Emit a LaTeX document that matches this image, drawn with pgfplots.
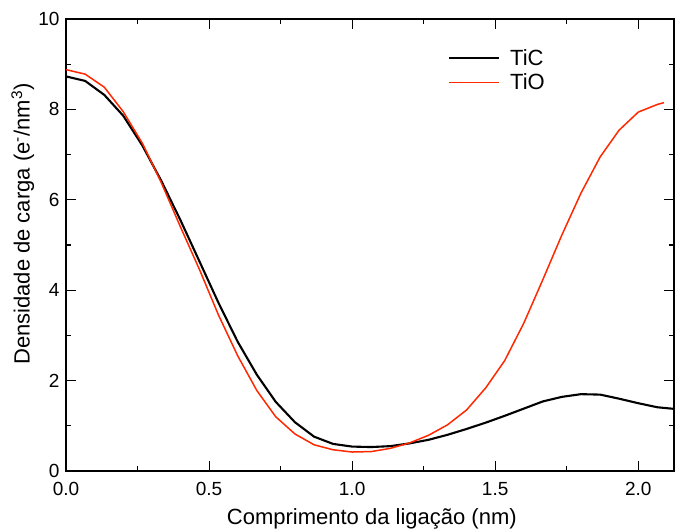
\documentclass[border=0pt]{standalone}
\usepackage{pgfplots}
\pgfplotsset{compat=1.18}
\usepackage{fontspec}
\setmainfont{Liberation Sans}
\definecolor{tioRed}{RGB}{255,40,0}
\pgfplotstableread{
x y
0.000 8.73
0.067 8.63
0.134 8.32
0.200 7.86
0.267 7.20
0.333 6.42
0.400 5.55
0.467 4.63
0.533 3.72
0.600 2.86
0.667 2.13
0.733 1.53
0.800 1.08
0.867 0.76
0.933 0.60
1.000 0.54
1.067 0.53
1.133 0.55
1.200 0.61
1.267 0.69
1.333 0.80
1.400 0.93
1.467 1.07
1.533 1.22
1.600 1.38
1.667 1.54
1.733 1.64
1.800 1.70
1.867 1.69
1.933 1.60
2.000 1.50
2.067 1.41
2.133 1.37
}\tic
\pgfplotstableread{
x y
0.000 8.88
0.067 8.78
0.134 8.49
0.200 7.95
0.267 7.25
0.333 6.38
0.400 5.40
0.467 4.45
0.533 3.45
0.600 2.55
0.667 1.78
0.733 1.20
0.800 0.82
0.867 0.58
0.933 0.47
1.000 0.42
1.067 0.43
1.133 0.50
1.200 0.62
1.267 0.79
1.333 1.02
1.400 1.35
1.467 1.84
1.533 2.44
1.600 3.27
1.667 4.24
1.733 5.22
1.800 6.15
1.867 6.95
1.933 7.54
2.000 7.94
2.067 8.11
2.090 8.15
}\tio
\begin{document}
\begin{tikzpicture}
\useasboundingbox (-66pt,-60pt) rectangle (609pt,471pt);
\begin{axis}[
  scale only axis,
  width=608pt, height=452pt,
  xmin=0, xmax=2.125, ymin=0, ymax=10,
  xtick={0,0.5,1,1.5,2}, ytick={0,2,4,6,8,10},
  minor x tick num=1, minor y tick num=1,
  tick align=inside,
  major tick length=10pt, minor tick length=5pt,
  every tick/.style={black, line width=1.1pt},
  axis line style={line width=1.5pt},
  /pgf/number format/assume math mode=true,
  xticklabel style={/pgf/number format/fixed, /pgf/number format/fixed zerofill, /pgf/number format/precision=1, font=\fontsize{19}{22}\selectfont, yshift=-8pt},
  yticklabel style={font=\fontsize{19}{22}\selectfont, xshift=-3pt},
  xlabel={Comprimento da ligação (nm)},
  ylabel={Densidade de carga (e\textsuperscript{-}/nm\textsuperscript{3})},
  xlabel style={font=\fontsize{22}{26}\selectfont, at={(axis description cs:0.503,-0.106)}, anchor=center},
  ylabel style={font=\fontsize{22}{26}\selectfont, at={(axis description cs:-0.071,0.546)}, anchor=center, rotate=0},
  legend style={draw=none, fill=none, at={(0.628,0.938)}, anchor=north west, font=\fontsize{22}{26}\selectfont, row sep=3pt, inner sep=0pt},
  legend cell align=left,
  legend image code/.code={\path (0pt,-6pt) (58pt,6pt); \draw[#1] (0pt,0pt) -- (50pt,0pt);},
]
\addplot[black, line width=2.1pt] table[x=x,y=y] {\tic};
\addlegendentry{TiC}
\addplot[tioRed, line width=1.5pt] table[x=x,y=y] {\tio};
\addlegendentry{TiO}
\end{axis}
\end{tikzpicture}
\end{document}
